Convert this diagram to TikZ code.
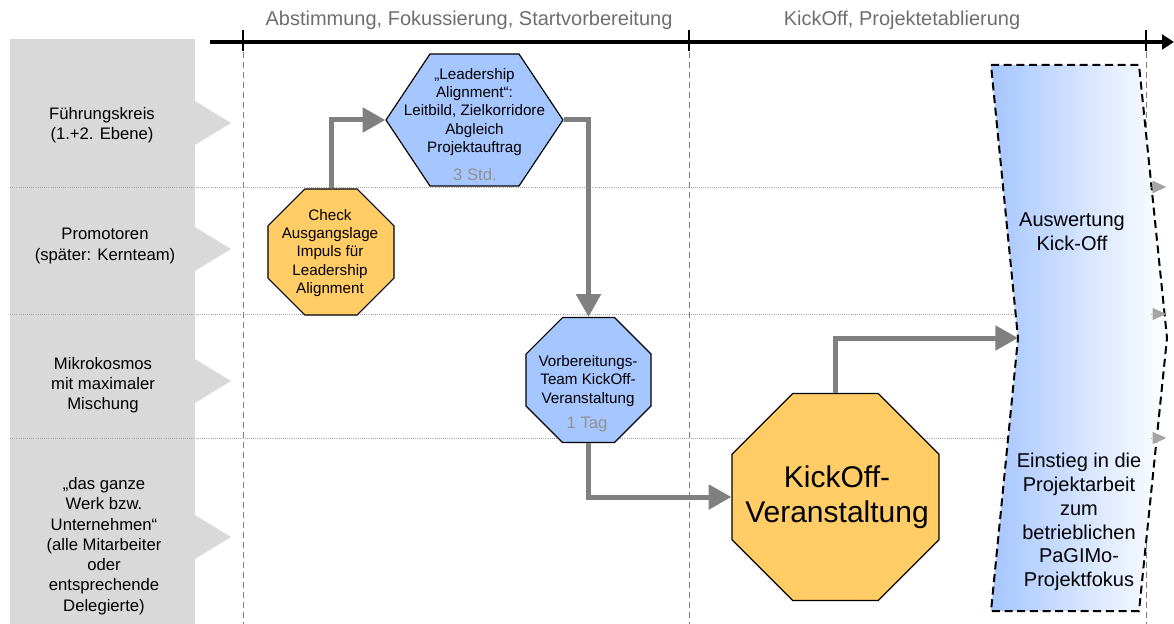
\documentclass[tikz,border=0pt]{standalone}
\usepackage{fontspec}
\setmainfont{Liberation Sans}
\usepackage{tikz}
\usetikzlibrary{shapes,arrows.meta,positioning,calc}
\definecolor{lanegray}{RGB}{217,217,217}
\definecolor{flowgray}{RGB}{128,128,128}
\definecolor{phasegray}{RGB}{110,110,110}
\definecolor{durgray}{RGB}{145,145,145}
\definecolor{dotgray}{RGB}{165,165,165}
\definecolor{octorange}{RGB}{255,204,102}
\definecolor{boxblue}{RGB}{166,198,255}

\tikzset{
  lanetxt/.style={align=center, font=\fontsize{12.5}{15.2}\selectfont},
  phasetxt/.style={text=phasegray, font=\fontsize{15}{18}\selectfont},
  boxtxt/.style={align=center, font=\fontsize{11.4}{13.7}\selectfont},
  bigtxt/.style={align=center, font=\fontsize{22.5}{26}\selectfont},
  chevtxt/.style={align=center, font=\fontsize{15}{17.8}\selectfont},
  duration/.style={text=durgray, font=\fontsize{12.5}{15}\selectfont},
  octo/.style={regular polygon, regular polygon sides=8, draw=black, line width=0.9pt, inner sep=0pt},
  flow/.style={draw=flowgray, line width=3.75pt, -{Triangle[length=17pt,width=18pt]}},
  laneline/.style={dotgray, densely dotted, line width=0.6pt, -{Triangle[length=10pt,width=9pt]}},
  phaseline/.style={flowgray, dash pattern=on 4.5pt off 3pt, line width=0.75pt},
  tick/.style={black, line width=2.2pt}
}

\begin{document}
\begin{tikzpicture}[x=0.75pt, y=-0.75pt]
    \useasboundingbox (0,0) rectangle (1174,624);

    % Lane headers
    \fill[lanegray] (10,39) rectangle (195,624);
    \foreach \y in {123,249,381,537}
        \fill[lanegray] (195,\y-22) -- (231,\y) -- (195,\y+22) -- cycle;
    \node[lanetxt] (lane1) at (102,125) {Führungskreis\\(1.+2. Ebene)};
    \node[lanetxt] (lane2) at (105,246) {Promotoren\\(später: Kernteam)};
    \node[lanetxt] (lane3) at (103,385) {Mikrokosmos\\mit maximaler\\Mischung};
    \node[lanetxt] (lane4) at (104,546) {„das ganze\\Werk bzw.\\Unternehmen“\\(alle Mitarbeiter\\oder\\entsprechende\\Delegierte)};

    % Lane separators
    \foreach \y in {187,314,438}
        \draw[laneline] (10,\y) -- (1166,\y);

    % Time line and phases
    \foreach \x in {243,689,1146}
        \draw[phaseline] (\x,42) -- (\x,624);
    \coordinate (tstart) at (210,42);
    \coordinate (tend) at (1174,42);
    \draw[black, line width=2.4pt, -{Triangle[length=9pt,width=11pt]}] (tstart) -- (tend);
    \foreach \x in {243,689,1146}
        \draw[tick] (\x,30) -- (\x,51);
    \node[phasetxt] (phase1) at (469,20) {Abstimmung, Fokussierung, Startvorbereitung};
    \node[phasetxt] (phase2) at (902,20) {KickOff, Projektetablierung};

    % Steps
    \node[octo, fill=octorange, minimum size=102.3pt] (check) at (331,252) {};
    \node[boxtxt] (checktxt) at (330,253) {Check\\Ausgangslage\\Impuls für\\Leadership\\Alignment};

    \node[signal, signal to=west and east, signal pointer angle=112.6, draw=black, line width=0.9pt,
          fill=boxblue, inner sep=0pt, minimum width=132.75pt, minimum height=99pt] (align) at (474.5,120) {};
    \node[boxtxt] (aligntxt) at (474.5,112) {„Leadership\\Alignment“:\\Leitbild, Zielkorridore\\Abgleich\\Projektauftrag};
    \node[duration] (aligntime) at (475,175) {3 Std.};

    \node[octo, fill=boxblue, minimum size=101.5pt] (prep) at (588.5,380) {};
    \node[boxtxt] (preptxt) at (588,381) {Vorbereitungs-\\Team KickOff-\\Veranstaltung};
    \node[duration] (preptime) at (587,424) {1 Tag};

    \node[octo, fill=octorange, minimum size=168pt] (kickoff) at (835.5,497) {};
    \node[bigtxt] (kicktxt) at (837,497) {KickOff-\\Veranstaltung};

    % Follow-up
    \coordinate (chevtip) at (1018,338);
    \draw[black, line width=1.5pt, dash pattern=on 6pt off 3.5pt, left color=boxblue, right color=white]
        (991,65) -- (1139,65) -- (1167,338) -- (1139,611) -- (991,611) -- (chevtip) -- cycle;
    \foreach \y in {187,314,438}
        \draw[laneline] (1151,\y) -- (1166,\y);
    \node[chevtxt] (review) at (1072,232) {Auswertung\\Kick-Off};
    \node[chevtxt] (entry) at (1079,522) {Einstieg in die\\Projektarbeit\\zum\\betrieblichen\\PaGIMo-\\Projektfokus};

    % Flow
    \draw[flow] (check.north) |- (align.west);
    \draw[flow] (align.east) -| (prep.north);
    \draw[flow] (prep.south) |- (kickoff.west);
    \draw[flow] (kickoff.north) |- (chevtip);
\end{tikzpicture}
\end{document}
